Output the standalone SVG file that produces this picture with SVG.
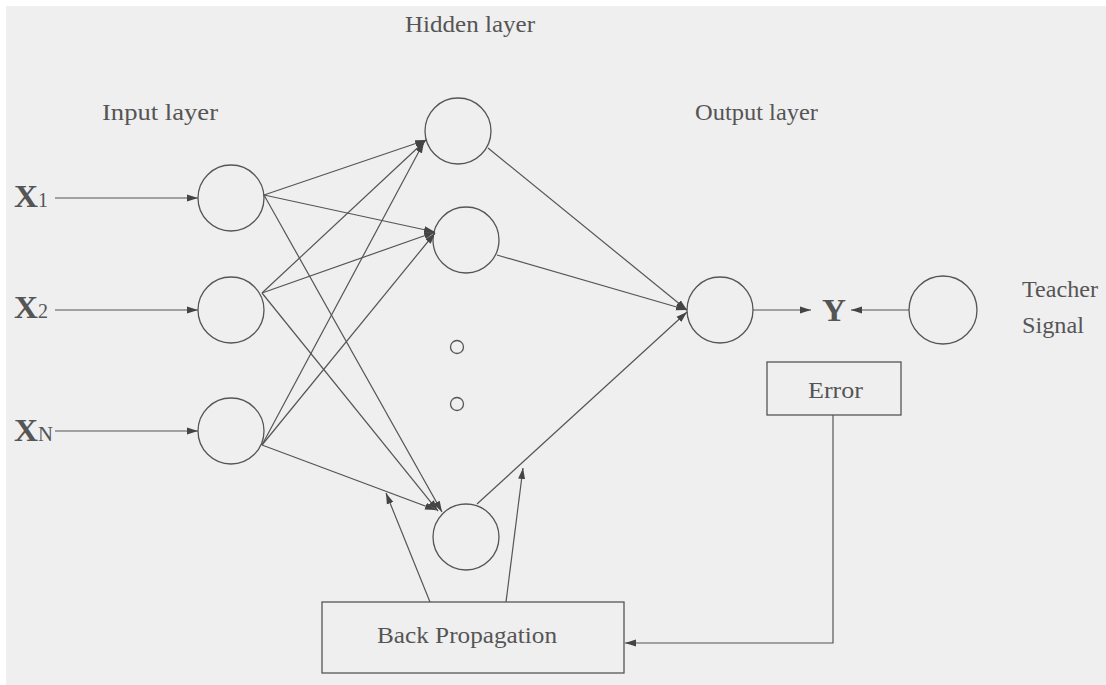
<svg xmlns="http://www.w3.org/2000/svg" width="1106" height="685" viewBox="0 0 1106 685">
<defs>
<marker id="ah" markerUnits="userSpaceOnUse" markerWidth="12" markerHeight="8" refX="11" refY="4" orient="auto">
<path d="M0,0.5 L11,4 L0,7.5 z" fill="#444"/>
</marker>
<style>
.n{fill:none;stroke:#555;stroke-width:1.3}
.c line,.c path{stroke:#555;stroke-width:1.2;fill:none}
.a{marker-end:url(#ah)}
.t{font-family:"Liberation Serif",serif;fill:#555;font-size:23px}
.big{font-family:"Liberation Serif",serif;fill:#555;font-size:32px;font-weight:bold}
.sub{font-family:"Liberation Serif",serif;fill:#555;font-size:20px}
</style>
</defs>
<rect width="1106" height="685" fill="#ffffff"/>
<rect x="6" y="6" width="1100" height="679" fill="#efefef"/>

<g id="labels">
<text class="t" x="405" y="32" textLength="130" lengthAdjust="spacingAndGlyphs">Hidden layer</text>
<text class="t" x="102" y="120" textLength="116" lengthAdjust="spacingAndGlyphs">Input layer</text>
<text class="t" x="695" y="120" textLength="123" lengthAdjust="spacingAndGlyphs">Output layer</text>
<text class="t" x="1022" y="297" textLength="76" lengthAdjust="spacingAndGlyphs">Teacher</text>
<text class="t" x="1022" y="333" textLength="62" lengthAdjust="spacingAndGlyphs">Signal</text>
</g>

<g id="x1"><text class="big" x="14" y="207" textLength="24" lengthAdjust="spacingAndGlyphs">X</text><text class="sub" x="38" y="207">1</text></g>
<g id="x2"><text class="big" x="14" y="318" textLength="24" lengthAdjust="spacingAndGlyphs">X</text><text class="sub" x="38" y="318">2</text></g>
<g id="xn"><text class="big" x="14" y="441" textLength="24" lengthAdjust="spacingAndGlyphs">X</text><text class="sub" x="38" y="441" textLength="15" lengthAdjust="spacingAndGlyphs">N</text></g>

<g id="in1"><circle class="n" cx="231" cy="198" r="33"/></g>
<g id="in2"><circle class="n" cx="231" cy="310" r="33"/></g>
<g id="in3"><circle class="n" cx="231" cy="431" r="33"/></g>

<g id="h1"><circle class="n" cx="458" cy="131" r="33"/></g>
<g id="h2"><circle class="n" cx="466" cy="240" r="33"/></g>
<g id="dots"><circle class="n" cx="457" cy="347" r="6.5"/><circle class="n" cx="457" cy="404" r="6.5"/></g>
<g id="h3"><circle class="n" cx="466" cy="537" r="33"/></g>

<g id="out"><circle class="n" cx="720" cy="310" r="33"/></g>
<g id="y"><text class="big" x="822" y="321" textLength="24" lengthAdjust="spacingAndGlyphs">Y</text></g>
<g id="teacher"><circle class="n" cx="943" cy="310" r="34"/></g>

<g id="error"><rect class="n" x="767" y="362" width="134" height="53"/><text class="t" x="808" y="398" textLength="55" lengthAdjust="spacingAndGlyphs">Error</text></g>
<g id="backprop"><rect class="n" x="322" y="602" width="302" height="71"/><text class="t" x="377" y="643" textLength="180" lengthAdjust="spacingAndGlyphs">Back Propagation</text></g>

<g id="connectors" class="c">
<line class="a" x1="55" y1="198" x2="198" y2="198"/>
<line class="a" x1="55" y1="310" x2="198" y2="310"/>
<line class="a" x1="55" y1="431" x2="198" y2="431"/>

<line class="a" x1="264" y1="195" x2="426" y2="140"/>
<line class="a" x1="264" y1="195" x2="435" y2="232"/>
<line class="a" x1="264" y1="195" x2="442" y2="512"/>
<line class="a" x1="262" y1="293" x2="426" y2="140"/>
<line class="a" x1="262" y1="293" x2="435" y2="232"/>
<line class="a" x1="262" y1="293" x2="438" y2="511"/>
<line class="a" x1="262" y1="445" x2="424" y2="142"/>
<line class="a" x1="262" y1="445" x2="435" y2="233"/>
<line class="a" x1="262" y1="445" x2="436" y2="510"/>

<line class="a" x1="488" y1="148" x2="687" y2="310"/>
<line class="a" x1="497" y1="255" x2="687" y2="310"/>
<line class="a" x1="477" y1="504" x2="687" y2="312"/>

<line class="a" x1="753" y1="310" x2="811" y2="310"/>
<line class="a" x1="909" y1="310" x2="851" y2="310"/>

<path class="a" d="M833,415 L833,643 L625,643"/>
<line class="a" x1="430" y1="602" x2="386" y2="493"/>
<line class="a" x1="506" y1="602" x2="523" y2="468"/>
</g>
</svg>
